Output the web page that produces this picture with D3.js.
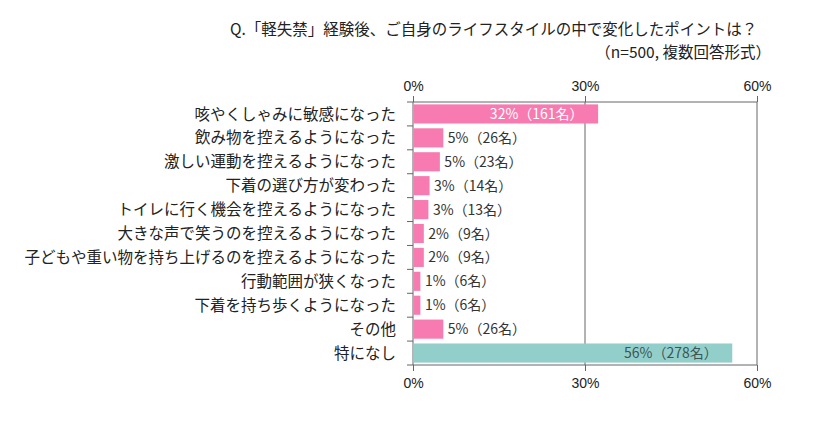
<!DOCTYPE html>
<html>
<head>
<meta charset="utf-8">
<script src="https://cdn.jsdelivr.net/npm/d3@7"></script>
<style>
  body { margin: 0; background: #fff; }
  svg { display: block; font-family: "Noto Sans CJK JP", "Noto Sans", sans-serif; }
</style>
</head>
<body>
<div id="chart"></div>
<script>
// Chart data
const categories = [
  "咳やくしゃみに敏感になった",
  "飲み物を控えるようになった",
  "激しい運動を控えるようになった",
  "下着の選び方が変わった",
  "トイレに行く機会を控えるようになった",
  "大きな声で笑うのを控えるようになった",
  "子どもや重い物を持ち上げるのを控えるようになった",
  "行動範囲が狭くなった",
  "下着を持ち歩くようになった",
  "その他",
  "特になし"
];
const values = [32.2, 5.2, 4.6, 2.8, 2.6, 1.8, 1.8, 1.2, 1.2, 5.2, 55.6];
const valueLabels = [
  "32%（161名）", "5%（26名）", "5%（23名）", "3%（14名）", "3%（13名）",
  "2%（9名）", "2%（9名）", "1%（6名）", "1%（6名）", "5%（26名）", "56%（278名）"
];
const tickValues = [0, 30, 60];
const titleLines = [
  "Q.「軽失禁」経験後、ご自身のライフスタイルの中で変化したポイントは？",
  "（n=500, 複数回答形式）"
];

const width = 826, height = 421;
const plot = { left: 413, right: 757, top: 102, bottom: 365 };

const svg = d3.select("#chart").append("svg")
  .attr("width", width)
  .attr("height", height)
  .attr("viewBox", [0, 0, width, height]);

const x = d3.scaleLinear().domain([0, 60]).range([plot.left, plot.right]);
const y = d3.scaleBand()
  .domain(categories)
  .range([plot.top, plot.bottom])
  .paddingInner(0.2)
  .paddingOuter(0.1);

// Title
svg.append("text")
  .attr("x", 230).attr("y", 35)
  .attr("font-size", "15.5px").attr("fill", "#222")
  .text(titleLines[0]);
svg.append("text")
  .attr("x", 771).attr("y", 58)
  .attr("text-anchor", "end")
  .attr("font-size", "15.5px").attr("fill", "#222")
  .text(titleLines[1]);

const lineColour = "#666";

// Grid lines at 30% and 60%
svg.append("g")
  .selectAll("line")
  .data(tickValues.slice(1))
  .join("line")
  .attr("x1", d => x(d)).attr("x2", d => x(d))
  .attr("y1", plot.top).attr("y2", plot.bottom)
  .attr("stroke", lineColour).attr("stroke-width", 1);

// Top and bottom axes
const topAxis = d3.axisTop(x).tickValues(tickValues).tickSize(6).tickPadding(5)
  .tickFormat(d => d + "%");
const bottomAxis = d3.axisBottom(x).tickValues(tickValues).tickSize(6).tickPadding(7)
  .tickFormat(d => d + "%");

function styleAxis(g) {
  g.select(".domain").attr("stroke", lineColour).attr("d",
    `M${plot.left},0H${plot.right}`);
  g.selectAll(".tick line").attr("stroke", lineColour);
  g.selectAll(".tick text")
    .attr("font-size", "14px")
    .attr("fill", "#222")
    .attr("font-family", "Liberation Sans, Arial, sans-serif");
}

svg.append("g")
  .attr("transform", `translate(0,${plot.top})`)
  .call(topAxis)
  .call(styleAxis);

svg.append("g")
  .attr("transform", `translate(0,${plot.bottom})`)
  .call(bottomAxis)
  .call(styleAxis);

// Left axis line with ticks at category boundaries
const step = y.step();
const boundaries = d3.range(categories.length + 1).map(i => plot.top + i * step);
svg.append("line")
  .attr("x1", plot.left).attr("x2", plot.left)
  .attr("y1", plot.top).attr("y2", plot.bottom)
  .attr("stroke", lineColour);
svg.append("g")
  .selectAll("line")
  .data(boundaries)
  .join("line")
  .attr("x1", plot.left - 6).attr("x2", plot.left)
  .attr("y1", d => d).attr("y2", d => d)
  .attr("stroke", lineColour);

// Category labels
svg.append("g")
  .selectAll("text")
  .data(categories)
  .join("text")
  .attr("x", 396)
  .attr("y", d => y(d) + y.bandwidth() / 2)
  .attr("dy", "0.36em")
  .attr("text-anchor", "end")
  .attr("font-size", "15.5px")
  .attr("fill", "#222")
  .text(d => d);

// Bars
const pink = "#f77bb1";
const teal = "#93cfca";
svg.append("g")
  .selectAll("rect")
  .data(categories)
  .join("rect")
  .attr("x", x(0) + 0.5)
  .attr("y", d => y(d))
  .attr("width", (d, i) => x(values[i]) - x(0))
  .attr("height", y.bandwidth())
  .attr("fill", (d, i) => i === categories.length - 1 ? teal : pink);

// Value labels
svg.append("g")
  .selectAll("text")
  .data(categories)
  .join("text")
  .attr("y", d => y(d) + y.bandwidth() / 2)
  .attr("dy", "0.36em")
  .attr("font-size", "14px")
  .each(function (d, i) {
    const inside = values[i] > 20;
    const t = d3.select(this);
    if (inside) {
      t.attr("x", x(values[i]) - 14)
        .attr("text-anchor", "end")
        .attr("fill", i === categories.length - 1 ? "#3d5555" : "#fff");
    } else {
      t.attr("x", x(values[i]) + 5)
        .attr("text-anchor", "start")
        .attr("fill", "#333");
    }
  })
  .text((d, i) => valueLabels[i]);
</script>
</body>
</html>
